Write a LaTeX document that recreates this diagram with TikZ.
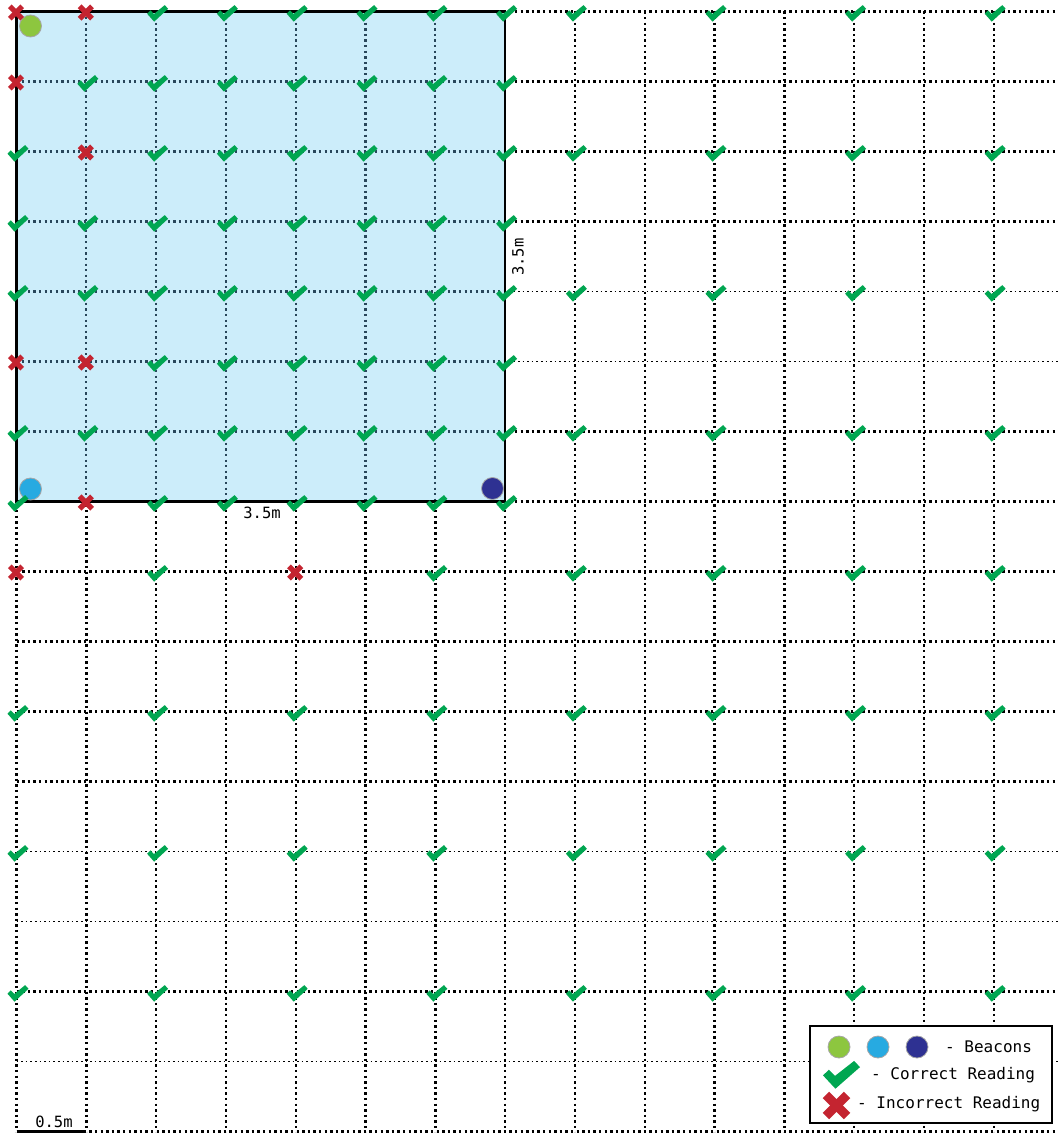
\documentclass[tikz,border=0pt]{standalone}
\usepackage{fontspec}
\setmonofont{DejaVu Sans Mono}
\definecolor{chkgreen}{RGB}{0,166,81}
\definecolor{crsred}{RGB}{196,36,48}
\definecolor{sqblue}{RGB}{204,237,250}
\definecolor{innergrid}{RGB}{40,70,90}
\definecolor{bgreen}{RGB}{141,198,63}
\definecolor{blight}{RGB}{39,170,225}
\definecolor{bdark}{RGB}{46,49,146}
\begin{document}
\begin{tikzpicture}[x=1pt,y=-1pt,
  gridthick/.style={line width=2.4pt, dash pattern=on 2.4pt off 3.2pt},
  gridthin/.style={line width=1.3pt, dash pattern=on 1.6pt off 3pt},
  gridinner/.style={innergrid, line width=2.3pt, dash pattern=on 2.3pt off 3.3pt},
  beacon/.style={circle, inner sep=0pt, minimum size=22pt, draw=gray!70, line width=0.8pt},
  lbl/.style={font=\ttfamily\fontsize{15.5}{16}\selectfont, inner sep=0pt},
  leg/.style={font=\ttfamily\fontsize{16}{17}\selectfont, inner sep=0pt, anchor=west},
  chk/.pic={\fill[chkgreen] (-1,0.02)--(-0.68,-0.3)--(-0.35,0.05)--(0.68,-0.8)--(1,-0.45)--(-0.33,0.78)--cycle;},
  crs/.pic={\fill[crsred,rotate=45] (-1,-0.3) rectangle (1,0.3);
            \fill[crsred,rotate=-45] (-1,-0.3) rectangle (1,0.3);}
]
\useasboundingbox (0,0) rectangle (1058,1134);
\fill[white] (0,0) rectangle (1058,1134);
% outer grid
\foreach \i in {0,...,14} \draw[gridthick] ({16.5+69.8*\i},11.5) -- ({16.5+69.8*\i},1131.5);
\foreach \j in {0,1,2,3,6,7,8,9,10,11,14,16} \draw[gridthick] (16.5,{11.5+70*\j}) -- (1058,{11.5+70*\j});
\foreach \j in {4,5,12,13,15} \draw[gridthin] (16.5,{11.5+70*\j}) -- (1058,{11.5+70*\j});
% square
\fill[sqblue] (16.5,11.5) rectangle (505.1,501.5);
\foreach \i in {1,...,6} \draw[gridinner] ({16.5+69.8*\i},11.5) -- ({16.5+69.8*\i},501.5);
\foreach \j in {1,...,6} \draw[gridinner] (16.5,{11.5+70*\j}) -- (505.1,{11.5+70*\j});
\draw[line width=2.2pt] (16.5,11.5) rectangle (505.1,501.5);
\draw[line width=2.2pt] (16.5,1131.5) -- (86.3,1131.5);
% labels
\node[lbl] (lbot) at (262,513) {3.5m};
\node[lbl, rotate=90] (lright) at (518,257) {3.5m};
\node[lbl] (lscale) at (54,1122) {0.5m};
% beacons
\node[beacon, fill=bgreen] (b1) at (30.5,26) {};
\node[beacon, fill=blight] (b2) at (30.5,489) {};
\node[beacon, fill=bdark] (b3) at (492.5,488.5) {};
% inside square marks
\foreach \i in {2,...,7} \pic[scale=10.5] at ({18+69.8*\i},13.5) {chk};
\foreach \i in {1,...,7} \pic[scale=10.5] at ({18+69.8*\i},83.5) {chk};
\foreach \i in {0,2,3,4,5,6,7} \pic[scale=10.5] at ({18+69.8*\i},153.5) {chk};
\foreach \i in {0,...,7} \pic[scale=10.5] at ({18+69.8*\i},223.5) {chk};
\foreach \i in {0,...,7} \pic[scale=10.5] at ({18+69.8*\i},293.5) {chk};
\foreach \i in {2,...,7} \pic[scale=10.5] at ({18+69.8*\i},363.5) {chk};
\foreach \i in {0,...,7} \pic[scale=10.5] at ({18+69.8*\i},433.5) {chk};
\foreach \i in {0,2,3,4,5,6,7} \pic[scale=10.5] at ({18+69.8*\i},503.5) {chk};
% outside marks
\foreach \j in {0,2,4,6} \foreach \i in {8,10,12,14} \pic[scale=10.5] at ({18+69.8*\i},{13.5+70*\j}) {chk};
\foreach \i in {2,6,8,10,12,14} \pic[scale=10.5] at ({18+69.8*\i},573.5) {chk};
\foreach \j in {10,12,14} \foreach \i in {0,2,...,14} \pic[scale=10.5] at ({18+69.8*\i},{13.5+70*\j}) {chk};
% crosses
\foreach \i/\j in {0/0,1/0,0/1,1/2,0/5,1/5,1/7,0/8,4/8} \pic[scale=8.8] at ({16+69.8*\i},{12.5+70*\j}) {crs};
% legend
\draw[line width=2.5pt, fill=white] (810,1026) rectangle (1052,1123);
\node[beacon, fill=bgreen] (lb1) at (839,1047) {};
\node[beacon, fill=blight] (lb2) at (878,1047) {};
\node[beacon, fill=bdark] (lb3) at (917,1047) {};
\node[leg] (t1) at (945,1047) {- Beacons};
\pic[scale=18.5,yscale=0.95] at (841.5,1075) {chk};
\node[leg] (t2) at (871,1075) {- Correct Reading};
\pic[scale=15] at (836.5,1105.5) {crs};
\node[leg] (t3) at (857,1104) {- Incorrect Reading};
\end{tikzpicture}
\end{document}
